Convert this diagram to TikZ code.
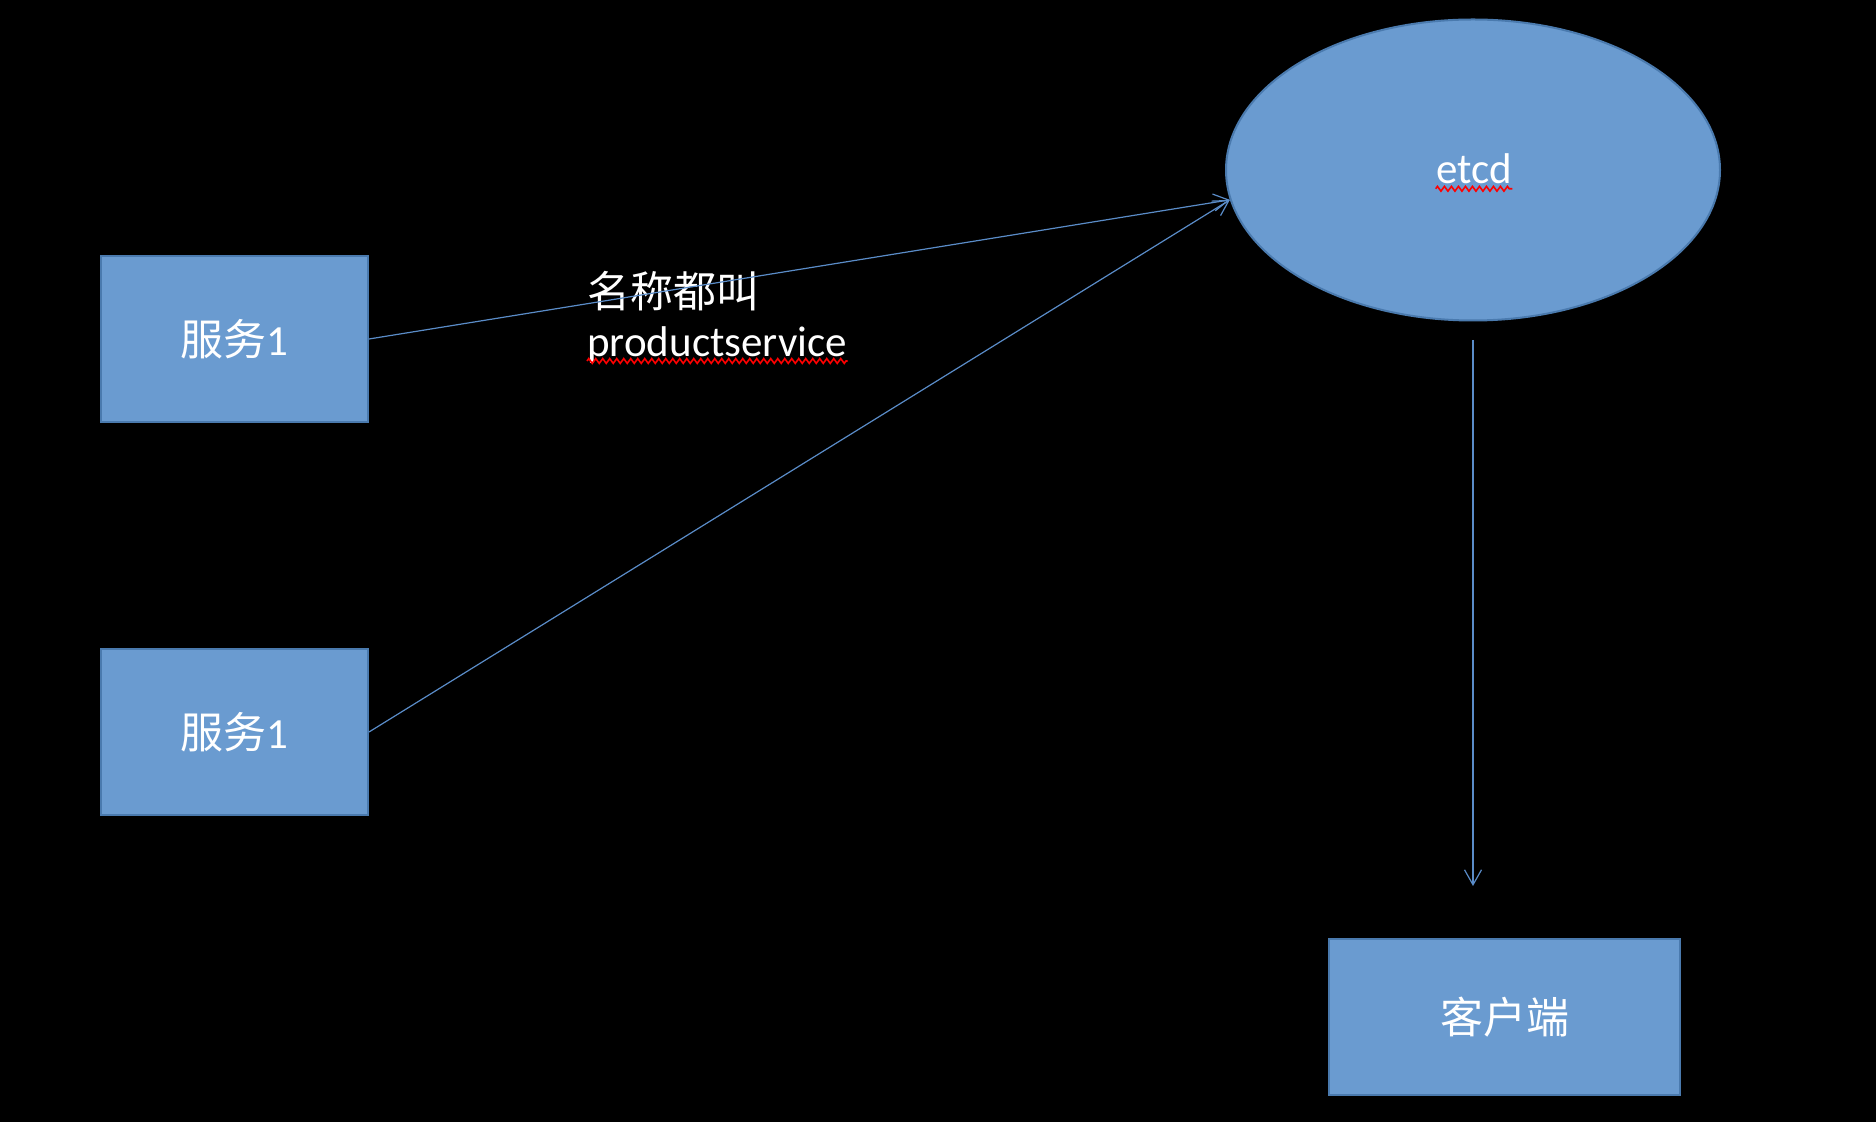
\documentclass[tikz,border=0pt]{standalone}
\usepackage{fontspec}
\setmainfont[Numbers=Lining]{Carlito}
\newfontfamily\cjk{Noto Sans CJK SC}
\usetikzlibrary{shapes.geometric,positioning,arrows.meta,decorations.pathmorphing}
\definecolor{boxfill}{HTML}{6A9BD0}
\definecolor{boxline}{HTML}{4A7AAE}
\definecolor{linkline}{HTML}{5A8CC8}

\begin{document}
\begin{tikzpicture}[x=0.5pt,y=-0.5pt,node distance=196.5pt,on grid,
    >={Straight Barb[length=7.5pt,width=8.5pt]},
    svc/.style={rectangle,draw=boxline,line width=1pt,fill=boxfill,text=white,
      font=\fontsize{21.5}{24}\selectfont,minimum width=133.5pt,minimum height=83pt},
    store/.style={ellipse,draw=boxline,line width=1pt,fill=boxfill,inner sep=0pt,
      minimum width=247pt,minimum height=150.5pt},
    note/.style={text=white,font=\fontsize{21.5}{24}\selectfont,inner sep=0pt},
    squig/.style={draw=red,line width=0.8pt,decorate,
      decoration={zigzag,segment length=3.5pt,amplitude=1.2pt}}]
   \fill[black] (0,0) rectangle (1876,1122);

   \node[svc] (serv1) at (234.5,339) {{\cjk 服务}1};
   \node[svc] (serv2) [below=of serv1] {{\cjk 服务}1};
   \node[store] (etcd) at (1473,170) {};
   \node[note] (etcdname) at (1474,169) {etcd};
   \node[svc,minimum width=175.5pt,minimum height=78pt] (client)
        [below right=423.5pt and 15.75pt of etcd] {{\cjk 客户端}};

   \node[note,anchor=base west] (namecn) at (587,308) {\cjk 名称都叫};
   \node[note,anchor=base west] (namesvc) at (587,357) {productservice};

   \path[->,color=linkline,line width=0.6pt]
    (serv1.east) edge (etcd.187)
    (serv2.east) edge (etcd.187)
    (etcd.south) edge [shorten <=9.25pt,shorten >=26pt] (etcd.south |- client.north);

   \draw[squig] ([yshift=-2.5pt]etcdname.base west) -- ([yshift=-2.5pt]etcdname.base east);
   \draw[squig] ([yshift=-2pt]namesvc.base west) -- ([yshift=-2pt]namesvc.base east);
\end{tikzpicture}
\end{document}
